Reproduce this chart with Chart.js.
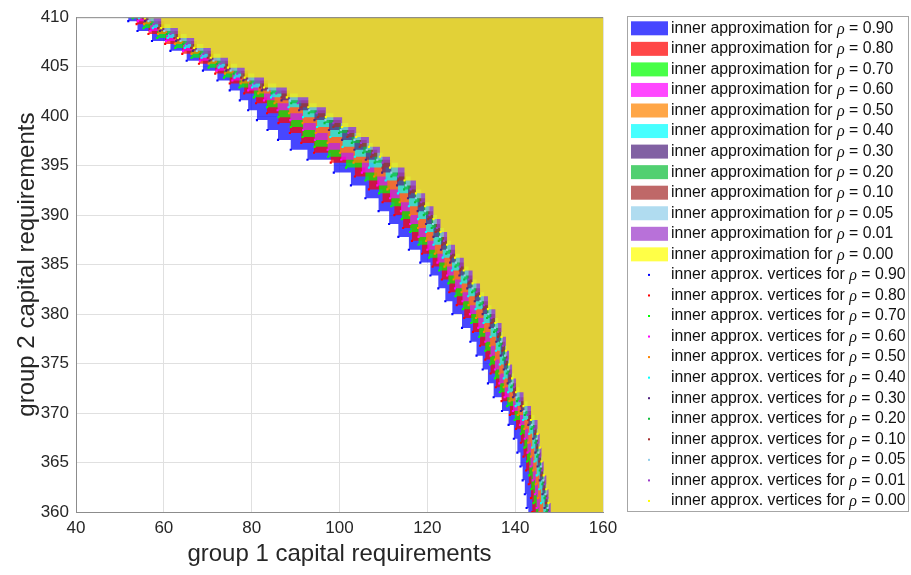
<!DOCTYPE html>
<html>
<head>
<meta charset="utf-8">
<script src="https://cdn.jsdelivr.net/npm/chart.js@4.4.1/dist/chart.umd.min.js"></script>
<style>
  html, body { margin: 0; padding: 0; background: #fff; }
</style>
</head>
<body>
<canvas id="regionChart" width="911" height="575"></canvas>
<script>
// confidence levels, outermost region first
var rhoLabels = ['0.90', '0.80', '0.70', '0.60', '0.50', '0.40', '0.30', '0.20', '0.10', '0.05', '0.01', '0.00'];

// group 2 levels of the staircase corners (three interleaved grids)
var levelsA = [410.6, 409.6, 408.6, 407.6, 406.6, 405.6, 404.6, 403.6, 402.6, 401.6, 400.6, 399.6, 398.6, 397.6, 396.6, 395.6, 394.3, 393.0, 391.7, 390.4, 389.1, 387.8, 386.5, 385.2, 383.9, 382.6, 381.3, 380.0, 378.6, 377.2, 375.8, 374.4, 373.0, 371.6, 370.2, 368.8, 367.4, 366.0, 364.6, 363.2, 361.8, 360.4, 359.0];
var levelsB = [410.3, 409.3, 408.3, 407.3, 406.3, 405.3, 404.3, 403.3, 402.3, 401.3, 400.3, 399.3, 398.3, 397.3, 396.3, 395.3, 393.9, 392.6, 391.3, 390.0, 388.7, 387.4, 386.1, 384.8, 383.5, 382.2, 380.9, 379.6, 378.2, 376.8, 375.4, 374.0, 372.6, 371.2, 369.8, 368.4, 367.0, 365.6, 364.2, 362.8, 361.4, 360.0, 358.6];
var levelsC = [410.9, 409.9, 408.9, 407.9, 406.9, 405.9, 404.9, 403.9, 402.9, 401.9, 400.9, 399.9, 398.9, 397.9, 396.9, 395.9, 394.8, 393.5, 392.2, 390.9, 389.6, 388.3, 387.0, 385.7, 384.4, 383.1, 381.8, 380.5, 379.1, 377.7, 376.3, 374.9, 373.5, 372.1, 370.7, 369.3, 367.9, 366.5, 365.1, 363.7, 362.3, 360.9, 359.5];

// group 1 requirement at each corner, per rho
var xRho090 = [50.6, 51.9, 54.0, 57.3, 61.5, 65.2, 68.9, 72.2, 75.0, 77.3, 79.2, 81.2, 83.6, 86.0, 88.9, 92.7, 98.7, 102.6, 105.9, 108.9, 111.3, 113.4, 115.8, 118.4, 120.7, 122.5, 124.1, 125.7, 127.9, 129.8, 131.2, 132.6, 133.8, 135.1, 137.0, 138.5, 139.7, 140.5, 141.2, 141.7, 142.2, 142.6, 143.0];
var xRho080 = [51.8, 53.8, 56.5, 60.3, 64.2, 68.0, 71.7, 75.0, 78.3, 81.0, 83.5, 86.1, 88.7, 91.3, 94.2, 98.0, 103.5, 106.7, 109.8, 112.5, 114.5, 116.5, 118.8, 121.2, 123.3, 125.0, 126.7, 128.4, 130.4, 132.0, 133.2, 134.4, 135.6, 136.9, 138.8, 140.2, 141.3, 141.9, 142.5, 143.1, 143.6, 143.9, 144.3];
var xRho070 = [51.2, 52.9, 55.4, 58.5, 62.6, 66.3, 70.2, 73.7, 77.2, 80.5, 83.5, 86.1, 88.9, 91.6, 94.3, 97.4, 101.5, 105.9, 109.0, 111.8, 114.2, 116.1, 118.0, 120.4, 122.7, 124.8, 126.4, 128.1, 130.0, 131.8, 133.2, 134.3, 135.4, 136.5, 138.2, 139.9, 141.3, 142.1, 142.7, 143.2, 143.7, 144.2, 144.7];
var xRho060 = [52.0, 54.1, 56.9, 60.5, 64.4, 68.2, 72.0, 75.6, 79.2, 82.8, 85.9, 88.8, 91.7, 94.4, 97.3, 100.4, 105.1, 108.6, 111.5, 114.0, 116.1, 118.0, 120.0, 122.3, 124.5, 126.3, 128.0, 129.7, 131.6, 133.2, 134.4, 135.4, 136.4, 137.6, 139.5, 141.1, 142.2, 142.8, 143.5, 144.0, 144.5, 144.9, 145.3];
var xRho050 = [52.9, 55.5, 58.7, 62.5, 66.3, 70.2, 73.9, 77.5, 81.5, 85.2, 88.5, 91.6, 94.6, 97.3, 100.1, 103.2, 107.9, 110.9, 113.7, 116.0, 117.9, 119.7, 121.7, 123.9, 126.0, 127.8, 129.4, 131.1, 132.9, 134.3, 135.4, 136.4, 137.4, 138.7, 140.6, 142.1, 143.0, 143.6, 144.1, 144.7, 145.2, 145.6, 146.0];
var xRho040 = [52.0, 54.3, 57.5, 60.9, 64.8, 68.6, 72.5, 76.1, 80.1, 84.4, 88.4, 91.7, 94.9, 97.9, 100.7, 103.5, 106.7, 110.5, 113.3, 115.8, 117.9, 119.7, 121.4, 123.5, 125.6, 127.6, 129.3, 131.0, 132.8, 134.4, 135.6, 136.5, 137.4, 138.4, 140.1, 141.8, 143.2, 143.9, 144.4, 144.9, 145.5, 145.9, 146.4];
var xRho030 = [52.9, 55.7, 59.1, 62.8, 66.6, 70.4, 74.2, 78.1, 82.3, 86.8, 90.8, 94.3, 97.6, 100.6, 103.4, 106.0, 109.7, 113.1, 115.6, 117.8, 119.7, 121.4, 123.1, 125.2, 127.3, 129.1, 130.8, 132.6, 134.2, 135.7, 136.7, 137.4, 138.3, 139.5, 141.3, 143.0, 144.1, 144.6, 145.1, 145.6, 146.2, 146.7, 147.1];
var xRho020 = [54.0, 57.1, 60.7, 64.4, 68.2, 72.1, 75.9, 79.7, 84.5, 89.0, 93.0, 96.6, 99.9, 102.8, 105.4, 108.0, 111.8, 114.7, 117.2, 119.2, 121.0, 122.6, 124.3, 126.4, 128.4, 130.2, 131.9, 133.6, 135.2, 136.4, 137.3, 138.1, 139.1, 140.4, 142.2, 143.7, 144.6, 145.0, 145.6, 146.2, 146.7, 147.1, 147.5];
var xRho010 = [52.5, 55.2, 58.7, 62.4, 66.2, 70.0, 73.9, 77.6, 81.9, 86.8, 91.3, 95.1, 98.6, 101.8, 104.6, 107.2, 109.8, 113.3, 116.0, 118.2, 120.2, 121.9, 123.4, 125.3, 127.4, 129.4, 131.1, 132.8, 134.6, 136.1, 137.1, 137.9, 138.7, 139.6, 141.3, 143.0, 144.5, 145.0, 145.5, 146.0, 146.5, 147.0, 147.5];
var xRho005 = [53.4, 56.5, 60.1, 63.8, 67.5, 71.3, 75.2, 79.2, 83.7, 88.7, 93.1, 96.8, 100.3, 103.4, 106.2, 108.6, 111.8, 115.1, 117.4, 119.5, 121.3, 122.9, 124.5, 126.5, 128.5, 130.3, 132.1, 133.9, 135.4, 136.8, 137.7, 138.4, 139.2, 140.3, 142.1, 143.8, 144.9, 145.3, 145.9, 146.4, 146.9, 147.4, 147.8];
var xRho001 = [54.4, 57.7, 61.5, 65.2, 69.0, 72.9, 76.7, 80.6, 85.6, 90.5, 94.8, 98.6, 102.0, 104.9, 107.6, 109.8, 113.3, 116.2, 118.6, 120.5, 122.2, 123.8, 125.4, 127.4, 129.4, 131.2, 132.9, 134.6, 136.1, 137.2, 138.1, 138.8, 139.7, 141.0, 142.8, 144.4, 145.2, 145.6, 146.1, 146.7, 147.3, 147.7, 148.1];
var xRho000 = [52.8, 55.7, 59.4, 63.2, 66.9, 70.7, 74.6, 78.4, 82.8, 88.0, 92.9, 96.9, 100.6, 103.8, 106.7, 109.2, 111.5, 114.8, 117.4, 119.5, 121.4, 123.0, 124.5, 126.3, 128.3, 130.3, 132.0, 133.8, 135.5, 136.9, 137.9, 138.6, 139.3, 140.2, 141.9, 143.6, 145.1, 145.6, 146.0, 146.5, 147.1, 147.6, 148.1];

var xTicks = [40, 60, 80, 100, 120, 140, 160];
var yTicks = [360, 365, 370, 375, 380, 385, 390, 395, 400, 405, 410];

var cornerX = [xRho090, xRho080, xRho070, xRho060, xRho050, xRho040, xRho030, xRho020, xRho010, xRho005, xRho001, xRho000];
var cornerY = [levelsA, levelsB, levelsC, levelsA, levelsB, levelsC, levelsA, levelsB, levelsC, levelsA, levelsB, levelsC];

// patch colours (drawn with face alpha)
var seriesRGB = [
  [0, 0, 255], [255, 0, 0], [0, 255, 0], [255, 0, 255], [255, 132, 0], [0, 255, 255],
  [80, 36, 128], [14, 190, 58], [166, 46, 46], [146, 206, 234], [156, 58, 202], [255, 255, 0]
];
var faceAlpha = 0.72;

function rgba(c, a) { return 'rgba(' + c[0] + ',' + c[1] + ',' + c[2] + ',' + a + ')'; }

var xMin = xTicks[0], xMax = xTicks[xTicks.length - 1];
var yMin = yTicks[0], yMax = yTicks[yTicks.length - 1];

var areaSets = [];
var vertexSets = [];
rhoLabels.forEach(function (rho, i) {
  var corners = cornerX[i].map(function (x, k) { return { x: x, y: cornerY[i][k] }; });
  // carry the last step out past the right edge of the axes
  var outline = corners.concat([{ x: xMax + 5, y: corners[corners.length - 1].y }]);
  areaSets.push({
    type: 'line',
    label: 'inner approximation for \u03c1 = ' + rho,
    data: outline,
    showLine: true,
    stepped: 'before',
    fill: 'end',
    backgroundColor: rgba(seriesRGB[i], faceAlpha),
    borderWidth: 0,
    pointRadius: 0,
    order: 100 - i
  });
  vertexSets.push({
    type: 'scatter',
    label: 'inner approx. vertices for \u03c1 = ' + rho,
    data: corners,
    pointRadius: 1.5,
    pointStyle: 'rect',
    backgroundColor: rgba(seriesRGB[i], 1),
    borderWidth: 0,
    order: 50 - i
  });
});

var FONT = '"Liberation Sans", Arial, Helvetica, sans-serif';
var AXIS_GRAY = '#262626';

// legend box on the right, patches first, then vertex markers
var boxLegend = {
  id: 'boxLegend',
  afterDraw: function (chart) {
    var ctx = chart.ctx;
    var left = 627, top = 16, right = 909, bottom = 512;
    var firstY = 28.3, step = 20.55;
    ctx.save();
    ctx.fillStyle = '#fff';
    ctx.fillRect(left, top, right - left, bottom - top);
    ctx.strokeStyle = '#a6a6a6';
    ctx.lineWidth = 1;
    ctx.strokeRect(left + 0.5, top + 0.5, right - left - 1, bottom - top - 1);

    var entries = [];
    rhoLabels.forEach(function (rho, i) { entries.push({ kind: 'area', i: i, head: 'inner approximation for ', rho: rho }); });
    rhoLabels.forEach(function (rho, i) { entries.push({ kind: 'dot', i: i, head: 'inner approx. vertices for ', rho: rho }); });

    entries.forEach(function (e, k) {
      var cy = firstY + k * step;
      if (e.kind === 'area') {
        ctx.fillStyle = rgba(seriesRGB[e.i], faceAlpha);
        ctx.fillRect(631, cy - 7, 37, 14);
      } else {
        ctx.fillStyle = rgba(seriesRGB[e.i], 1);
        ctx.fillRect(648, cy - 1, 2, 2);
      }
      var tx = 671;
      ctx.fillStyle = '#111';
      ctx.textBaseline = 'middle';
      ctx.textAlign = 'left';
      ctx.font = '15.8px ' + FONT;
      ctx.fillText(e.head, tx, cy);
      tx += ctx.measureText(e.head).width;
      ctx.font = 'italic 16px "Liberation Serif", "DejaVu Serif", serif';
      ctx.fillText('\u03c1', tx, cy + 1);
      tx += ctx.measureText('\u03c1').width;
      ctx.font = '15.8px ' + FONT;
      ctx.fillText(' = ' + e.rho, tx, cy);
    });
    ctx.restore();
  }
};

// top edge of the axes box
var axesFrame = {
  id: 'axesFrame',
  afterDatasetsDraw: function (chart) {
    var a = chart.chartArea, ctx = chart.ctx;
    ctx.save();
    ctx.strokeStyle = '#8c8c8c';
    ctx.lineWidth = 1;
    ctx.beginPath();
    ctx.moveTo(a.left, a.top + 0.5);
    ctx.lineTo(a.right, a.top + 0.5);
    ctx.stroke();
    ctx.restore();
  }
};

new Chart('regionChart', {
  type: 'scatter',
  data: { datasets: areaSets.concat(vertexSets) },
  options: {
    responsive: false,
    animation: false,
    devicePixelRatio: 1,
    layout: { padding: { left: 0, top: 15, right: 308, bottom: 0 } },
    plugins: {
      legend: { display: false },
      tooltip: { enabled: false }
    },
    scales: {
      x: {
        type: 'linear',
        min: xMin,
        max: xMax,
        afterBuildTicks: function (s) { s.ticks = xTicks.map(function (v) { return { value: v }; }); },
        afterFit: function (s) { s.height = 63; },
        ticks: { color: AXIS_GRAY, padding: 6, font: { family: FONT, size: 17 } },
        grid: { color: '#e0e0e0', drawTicks: false },
        border: { color: '#8c8c8c' },
        title: {
          display: true,
          text: 'group 1 capital requirements',
          color: AXIS_GRAY,
          font: { family: FONT, size: 24 },
          padding: { top: 0, bottom: 6 }
        }
      },
      y: {
        type: 'linear',
        min: yMin,
        max: yMax,
        afterBuildTicks: function (s) { s.ticks = yTicks.map(function (v) { return { value: v }; }); },
        afterFit: function (s) { s.width = 76; },
        ticks: { color: AXIS_GRAY, padding: 7, font: { family: FONT, size: 17 } },
        grid: { color: '#e0e0e0', drawTicks: false },
        border: { color: '#8c8c8c' },
        title: {
          display: true,
          text: 'group 2 capital requirements',
          color: AXIS_GRAY,
          font: { family: FONT, size: 24 },
          padding: { top: 13, bottom: 0 }
        }
      }
    }
  },
  plugins: [axesFrame, boxLegend]
});
</script>
</body>
</html>
